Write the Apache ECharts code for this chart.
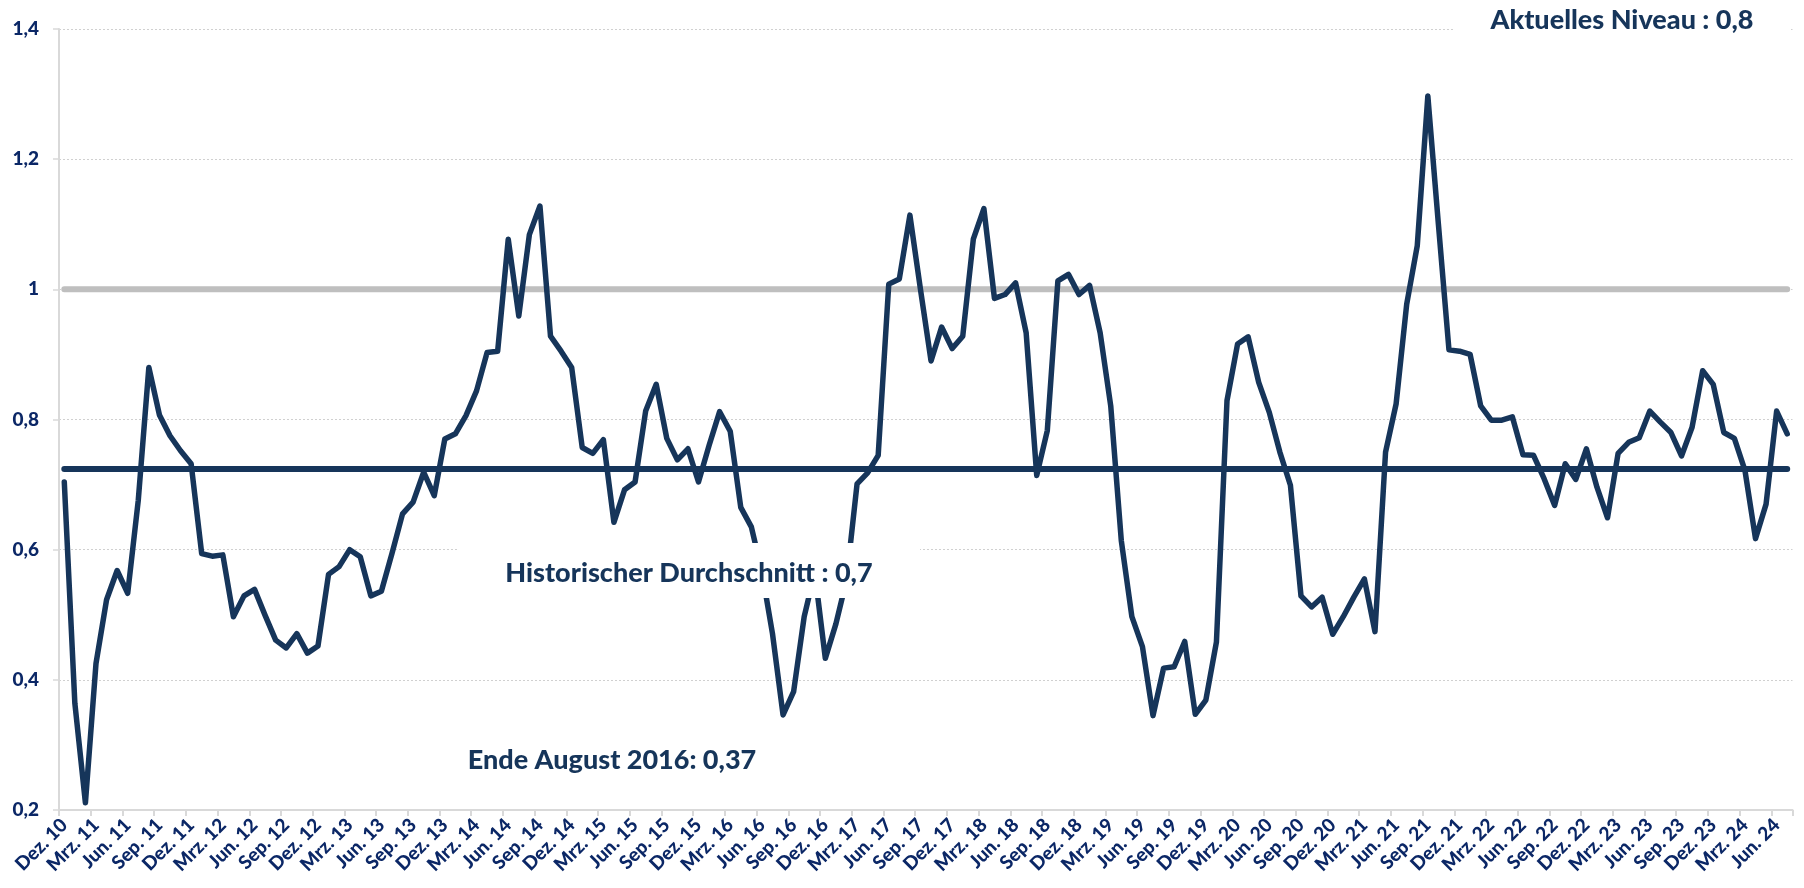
<!DOCTYPE html>
<html>
<head>
<meta charset="utf-8">
<script src="https://cdn.jsdelivr.net/npm/echarts@6/dist/echarts.min.js"></script>
<style>
html,body{margin:0;padding:0;background:#fff;}
#chart{width:1804px;height:888px;}
</style>
</head>
<body>
<div id="chart"></div>
<script>
// ---- data ----
const monthNames = ['Jan.','Feb.','Mrz.','Apr.','Mai','Jun.','Jul.','Aug.','Sep.','Okt.','Nov.','Dez.'];
const startMonthIndex = 11; // Dez.
const startYear = 10;       // 2010
const values = [
  0.704,0.364,0.211,0.425,0.523,0.568,0.533,0.676,0.880,0.807,0.775,0.752,
  0.732,0.594,0.590,0.592,0.497,0.529,0.539,0.499,0.461,0.449,0.471,0.441,
  0.452,0.562,0.574,0.600,0.589,0.529,0.536,0.594,0.655,0.673,0.719,0.683,
  0.770,0.778,0.806,0.844,0.903,0.905,1.077,0.959,1.084,1.128,0.928,0.905,
  0.880,0.757,0.748,0.769,0.642,0.692,0.704,0.813,0.854,0.771,0.738,0.755,
  0.704,0.760,0.812,0.782,0.665,0.635,0.566,0.471,0.346,0.382,0.497,0.565,
  0.433,0.486,0.553,0.701,0.718,0.745,1.008,1.016,1.114,1.000,0.890,0.942,
  0.909,0.928,1.077,1.124,0.986,0.992,1.010,0.933,0.714,0.783,1.013,1.023,
  0.992,1.006,0.933,0.821,0.614,0.497,0.451,0.345,0.418,0.420,0.459,0.347,
  0.369,0.458,0.829,0.916,0.927,0.857,0.811,0.750,0.699,0.529,0.512,0.527,
  0.470,0.497,0.527,0.555,0.474,0.750,0.824,0.977,1.067,1.297,1.100,0.907,
  0.905,0.900,0.821,0.799,0.799,0.804,0.746,0.745,0.709,0.668,0.732,0.708,
  0.755,0.696,0.649,0.748,0.765,0.772,0.813,0.796,0.780,0.744,0.788,0.875,
  0.854,0.780,0.771,0.722,0.617,0.670,0.813,0.778
];
const historicalAverage = 0.724;
const referenceLevel = 1;
const yTicks = [0.2, 0.4, 0.6, 0.8, 1.0, 1.2, 1.4];
const annotations = [
  'Aktuelles Niveau : 0,8',
  'Historischer Durchschnitt : 0,7',
  'Ende August 2016: 0,37'
];

const categories = values.map((_, i) => {
  const k = startMonthIndex + i;
  const m = k % 12;
  const y = startYear + Math.floor(k / 12);
  return monthNames[m] + ' ' + y;
});

const navy = '#16355A';
const labelBlue = '#0B2766';
const font = 'Lato';

const chart = echarts.init(document.getElementById('chart'), null, {renderer: 'canvas'});
chart.setOption({
  animation: false,
  backgroundColor: '#ffffff',
  grid: {left: 59, right: 11.5, top: 29, bottom: 78, containLabel: false},
  xAxis: {
    type: 'category',
    data: categories,
    boundaryGap: true,
    axisLine: {show: true, lineStyle: {color: '#D9D9D9', width: 2}},
    axisTick: {show: true, interval: 2, length: 6, lineStyle: {color: '#D9D9D9', width: 2}},
    axisLabel: {
      interval: 2, rotate: 45, margin: 12,
      color: labelBlue, fontFamily: font, fontWeight: 900, fontSize: 19
    },
    splitLine: {show: false}
  },
  yAxis: {
    type: 'value',
    min: yTicks[0], max: yTicks[yTicks.length - 1], interval: 0.2,
    axisLine: {show: true, lineStyle: {color: '#D9D9D9', width: 2}},
    axisTick: {show: true, length: 6, lineStyle: {color: '#D9D9D9', width: 1.5}},
    axisLabel: {
      margin: 20, color: labelBlue, fontFamily: font, fontWeight: 900, fontSize: 19,
      formatter: v => String(Math.round(v * 10) / 10).replace('.', ',')
    },
    splitLine: {show: true, lineStyle: {color: '#D0D0D0', type: [2, 2], width: 1}}
  },
  series: [
    {
      name: 'Referenz', type: 'line', data: values.map(() => referenceLevel),
      symbol: 'none', silent: true, z: 2,
      lineStyle: {color: '#BFBFBF', width: 6, cap: 'round'}
    },
    {
      name: 'Historischer Durchschnitt', type: 'line', data: values.map(() => historicalAverage),
      symbol: 'none', silent: true, z: 3,
      lineStyle: {color: navy, width: 6, cap: 'round'}
    },
    {
      name: 'Wert', type: 'line', data: values,
      symbol: 'none', silent: true, z: 4,
      lineStyle: {color: navy, width: 5.5, cap: 'round', join: 'round'}
    }
  ],
  graphic: [
    {type: 'rect', z: 100, shape: {x: 1455, y: 2, width: 335, height: 42}, style: {fill: '#ffffff'}},
    {type: 'text', z: 101, x: 1622, y: 20, style: {
      text: annotations[0], fill: navy, font: '900 27px ' + font, textAlign: 'center', textVerticalAlign: 'middle'}},
    {type: 'rect', z: 100, shape: {x: 458, y: 543, width: 462, height: 55}, style: {fill: '#ffffff'}},
    {type: 'text', z: 101, x: 689, y: 573, style: {
      text: annotations[1], fill: navy, font: '900 27px ' + font, textAlign: 'center', textVerticalAlign: 'middle'}},
    {type: 'rect', z: 100, shape: {x: 440, y: 735, width: 345, height: 52}, style: {fill: '#ffffff'}},
    {type: 'text', z: 101, x: 612, y: 760, style: {
      text: annotations[2], fill: navy, font: '900 27px ' + font, textAlign: 'center', textVerticalAlign: 'middle'}}
  ]
});
</script>
</body>
</html>
